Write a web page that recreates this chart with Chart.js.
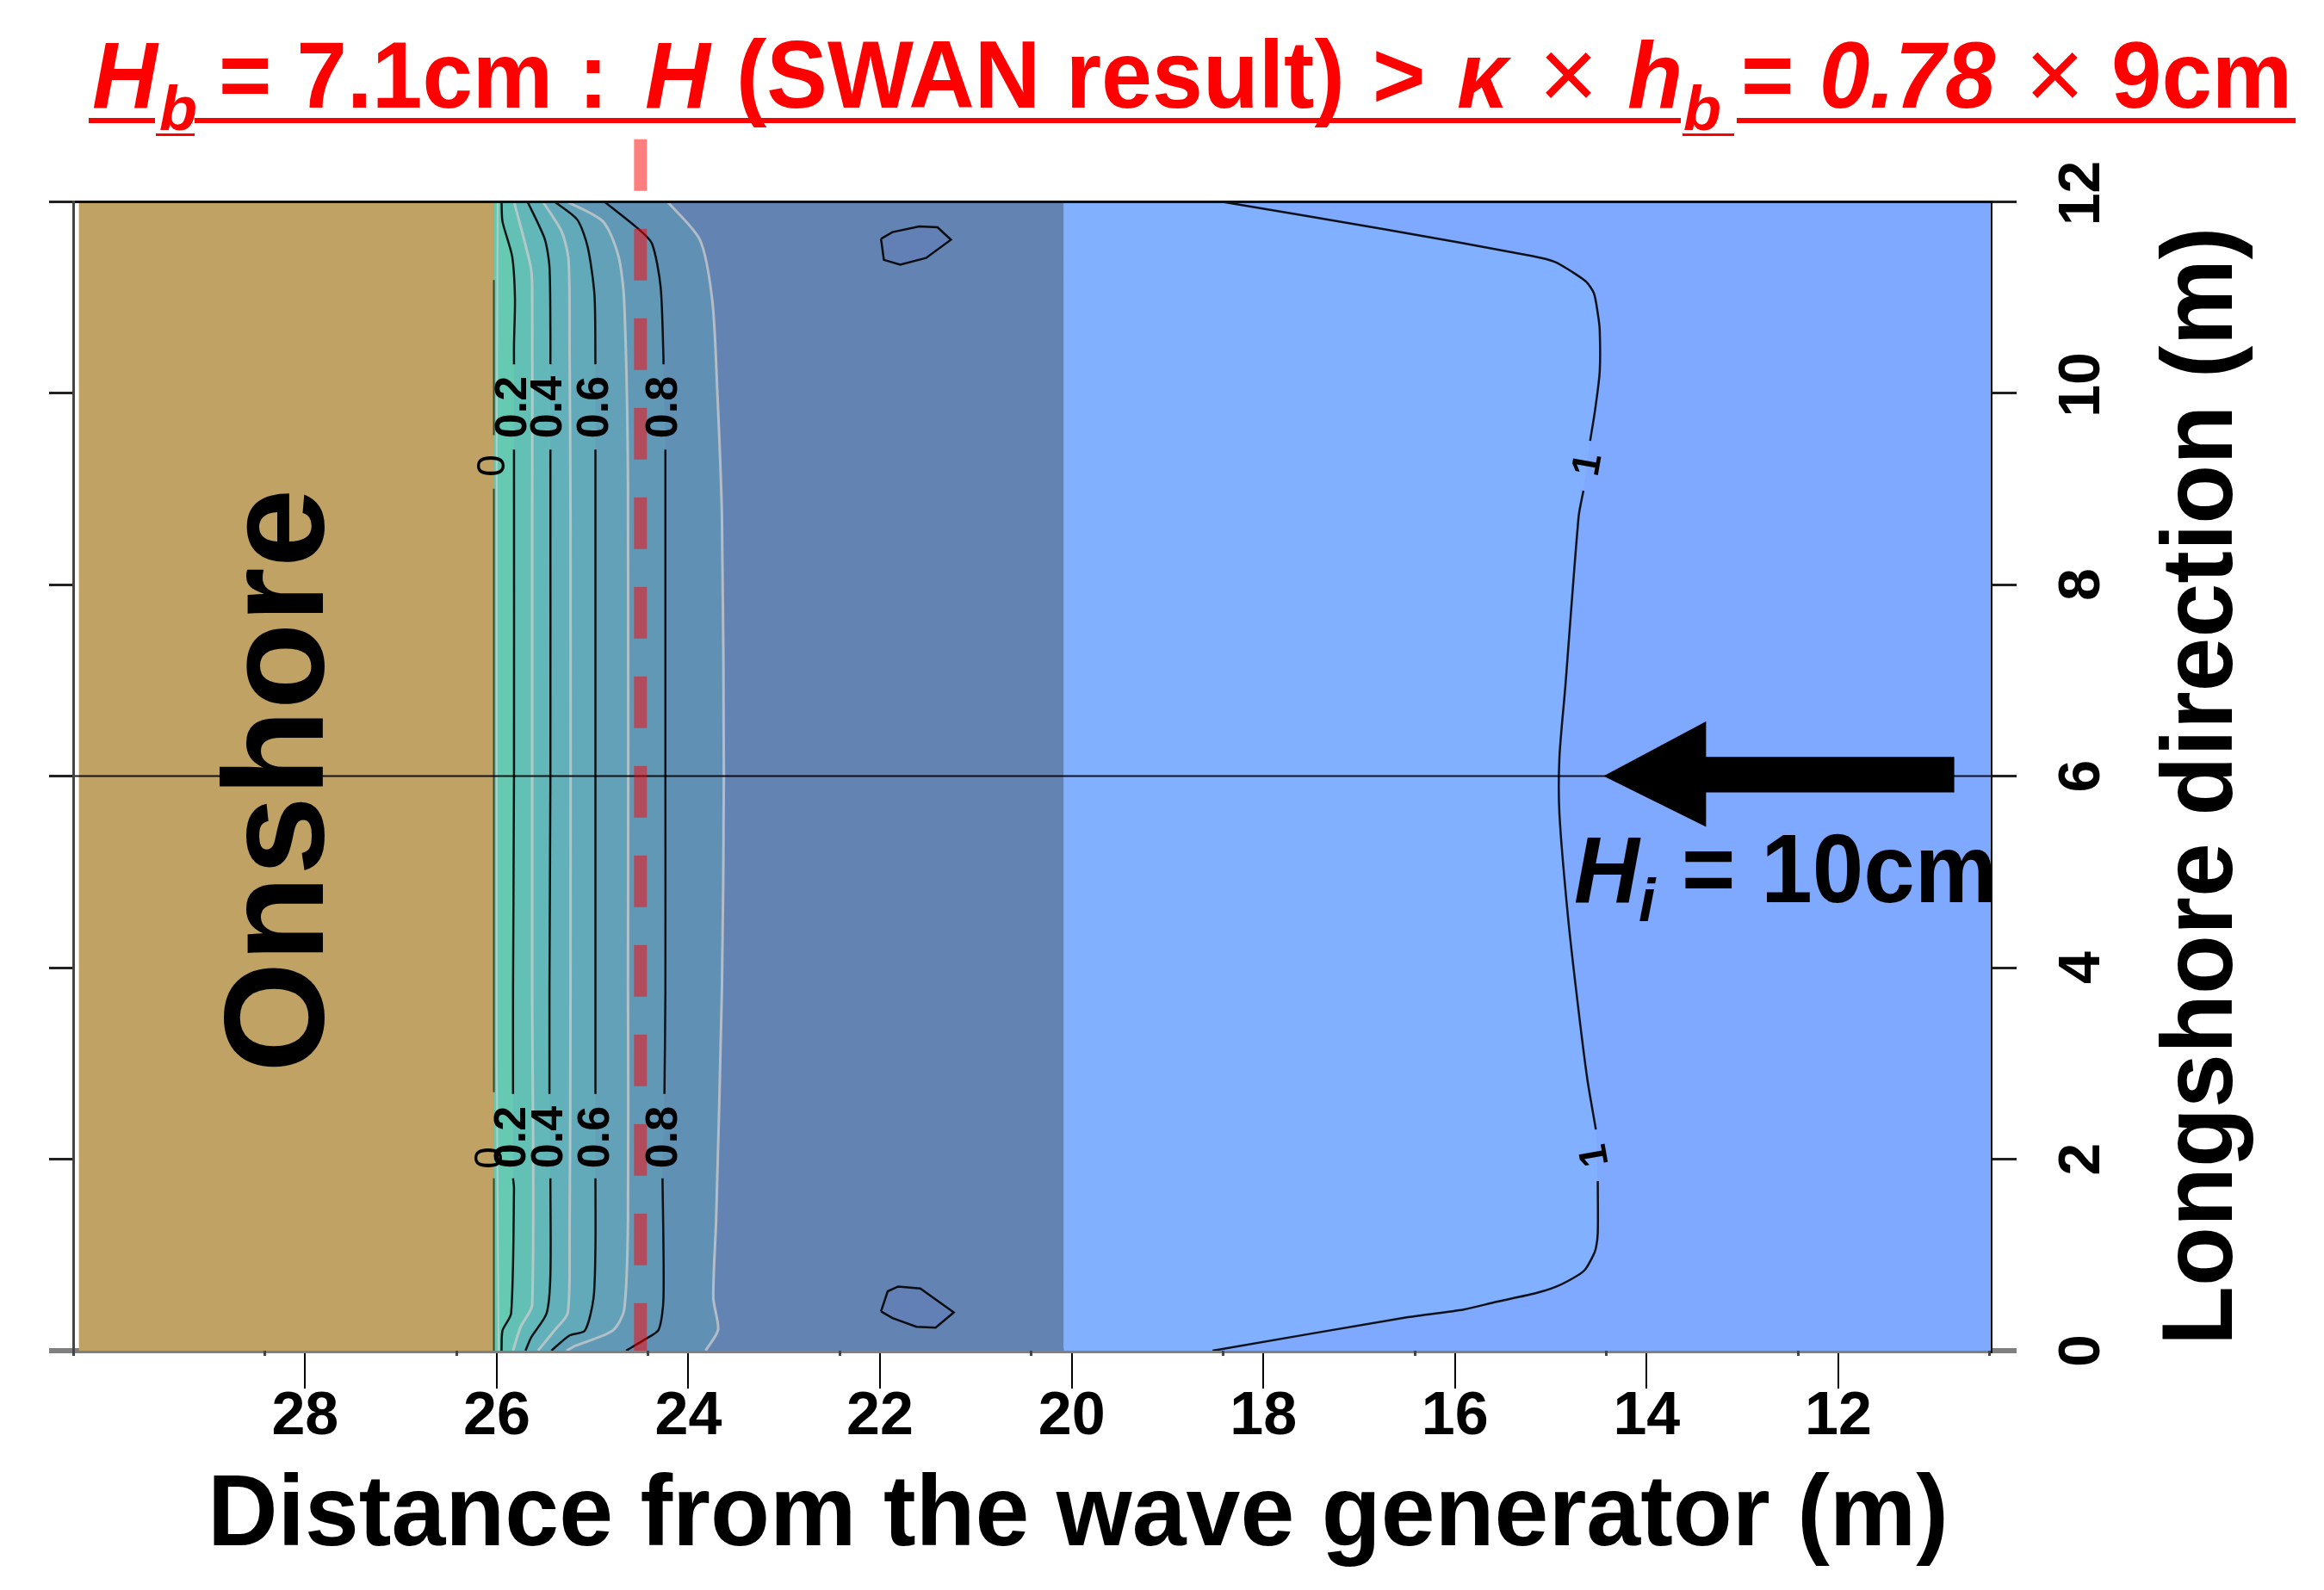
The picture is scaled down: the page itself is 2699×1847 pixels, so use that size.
<!DOCTYPE html>
<html>
<head>
<meta charset="utf-8">
<title>Wave height contours</title>
<script src="https://cdn.jsdelivr.net/npm/chart.js@4"></script>
<style>
  html, body { margin: 0; padding: 0; background: #fff; }
  canvas { display: block; }
</style>
</head>
<body>
<canvas id="contour-chart" width="2699" height="1847"></canvas>
<script>
// axes
const xMin = 10.4;
const xMax = 30.42;
const xTickValues = [28, 26, 24, 22, 20, 18, 16, 14, 12];
const xMinorTicks = [30.42, 28.42, 26.42, 24.42, 22.42, 20.42, 18.42, 16.42, 14.42, 12.42, 10.42];
const yTickValues = [0, 2, 4, 6, 8, 10, 12];

// regions
const onshoreRegion = [[30.36, 12], [26.03, 12], [26.03, 0], [30.36, 0]];
const deepRegion = [[26.03, 12], [20.08, 12], [20.08, 0], [26.03, 0]];
const offshoreRegion = [[20.08, 12], [10.4, 12], [10.4, 0], [20.08, 0]];

// contour lines, null = gap where the label sits
const contour0 = [[26.03, 11.18], [26.03, 9.56], null, [26.03, 9.0], [26.03, 2.7], null, [26.03, 1.8], [26.03, 0]];
const contour01 = [[25.99, 12], [26.0, 9.5], [26.0, 3], [25.98, 0]];
const contour02 = [[25.95, 12], [25.94, 11.79], [25.84, 11.43], [25.81, 10.99], [25.82, 10.51], [25.82, 10.3], null, [25.82, 9.41], [25.82, 6], [25.83, 3.78], [25.83, 2.68], null, [25.83, 1.8], [25.82, 1.69], [25.85, 0.39], [25.94, 0.21], [25.95, 0]];
const contour03 = [[25.82, 12], [25.65, 11.34], [25.63, 11.11], [25.63, 8.71], [25.63, 3.78], [25.63, 0.48], [25.75, 0.25], [25.83, 0]];
const contour04 = [[25.68, 12], [25.5, 11.61], [25.45, 11.32], [25.44, 10.63], [25.44, 10.3], null, [25.44, 9.41], [25.44, 6], [25.45, 3.78], [25.45, 2.68], null, [25.44, 1.8], [25.44, 0.79], [25.48, 0.39], [25.64, 0.14], [25.7, 0]];
const contour05 = [[25.52, 12], [25.32, 11.68], [25.25, 11.38], [25.24, 10.51], [25.23, 8.71], [25.23, 3.78], [25.24, 1.09], [25.26, 0.39], [25.39, 0.22], [25.57, 0]];
const contour06 = [[25.4, 12], [25.16, 11.81], [25.05, 11.52], [24.98, 11.02], [24.97, 10.3], null, [24.97, 9.41], [24.97, 6], [24.97, 2.68], null, [24.97, 1.8], [24.97, 1.09], [24.99, 0.55], [25.08, 0.21], [25.24, 0.16], [25.43, 0]];
const contour07 = [[25.27, 12], [24.89, 11.79], [24.73, 11.43], [24.67, 10.96], [24.63, 9.01], [24.63, 3.78], [24.63, 1.38], [24.67, 0.43], [24.79, 0.21], [25.18, 0.05], [25.27, 0]];
const contour08 = [[24.88, 12], [24.53, 11.72], [24.38, 11.56], [24.29, 11.11], [24.26, 10.36], [24.26, 10.3], null, [24.24, 9.41], [24.24, 6], [24.24, 3.78], [24.25, 2.68], null, [24.27, 1.8], [24.26, 0.55], [24.31, 0.22], [24.45, 0.12], [24.65, 0]];
const contour09 = [[24.22, 12], [23.88, 11.6], [23.75, 10.96], [23.7, 10.06], [23.65, 8.71], [23.63, 6], [23.65, 3.78], [23.71, 1.38], [23.74, 0.55], [23.69, 0.22], [23.82, 0]];
const contour10 = [[18.45, 12], [16.74, 11.71], [15.19, 11.43], [14.96, 11.37], [14.77, 11.26], [14.63, 11.16], [14.55, 11.04], [14.51, 10.83], [14.49, 10.66], [14.49, 10.22], [14.54, 9.81], [14.59, 9.5], null, [14.66, 8.98], [14.71, 8.71], [14.85, 6.92], [14.91, 6.2], [14.91, 5.6], [14.82, 4.52], [14.72, 3.63], [14.62, 2.84], [14.53, 2.31], null, [14.51, 1.77], [14.51, 1.23], [14.53, 1.07], [14.56, 0.99], [14.64, 0.85], [14.73, 0.78], [14.94, 0.67], [15.16, 0.6], [15.57, 0.51], [15.91, 0.43], [16.49, 0.35], [18.53, 0]];
const blobTop = [[21.99, 11.61], [21.87, 11.68], [21.59, 11.74], [21.4, 11.73], [21.26, 11.6], [21.52, 11.41], [21.79, 11.34], [21.96, 11.39], [21.99, 11.61]];
const blobBottom = [[21.99, 0.41], [21.92, 0.62], [21.81, 0.67], [21.58, 0.65], [21.23, 0.4], [21.42, 0.24], [21.62, 0.25], [21.87, 0.34], [21.99, 0.41]];

// annotations
const breakingLine = [[24.5, 12.65], [24.5, 0]];
const transectLine = [[30.42, 6], [10.4, 6]];
const waveArrow = [[14.45, 6], [13.38, 6.57], [13.38, 6.2], [10.79, 6.2], [10.79, 5.83], [13.38, 5.83], [13.38, 5.47]];

const toPoints = list => list.map(p => p ? { x: p[0], y: p[1] } : { x: null, y: null });
const solid = list => list.filter(p => p);

function region(list, color) {
  return { data: toPoints(list), showLine: true, fill: 'shape', backgroundColor: color, borderColor: 'transparent', borderWidth: 0, pointRadius: 0 };
}
function band(list, color) {
  return region(solid(list).concat([[26.03, 0], [26.03, 12]]), color);
}
function line(list, color, width, tension) {
  return { data: toPoints(list), showLine: true, fill: false, borderColor: color, borderWidth: width, pointRadius: 0, tension: tension || 0 };
}

const BLACK_LINE = 'rgba(0,0,0,0.9)';
const GREY_LINE = 'rgba(205,205,205,0.75)';

var datasets = [
  region(onshoreRegion, '#BFA264'),
  region(deepRegion, '#6384B2'),
  region(offshoreRegion, '#7FA9FF'),
  region(solid(contour10).concat([[20.08, 0], [20.08, 12]]), '#80B0FF'),
  band(contour09, '#6090B4'),
  band(contour08, '#6098B6'),
  band(contour07, '#62A1B7'),
  band(contour06, '#62A9B9'),
  band(contour05, '#62B0B9'),
  band(contour04, '#62B8B8'),
  band(contour03, '#63C0B5'),
  band(contour02, '#66CAB2'),
  region(blobTop, '#6280B6'),
  region(blobBottom, '#6280B6'),
  line(contour01, GREY_LINE, 2),
  line(contour03, GREY_LINE, 3, 0.25),
  line(contour05, GREY_LINE, 3, 0.25),
  line(contour07, GREY_LINE, 3, 0.25),
  line(contour09, GREY_LINE, 3, 0.25),
  line(contour0, 'rgba(0,0,0,0.6)', 2),
  line(contour02, BLACK_LINE, 2.5, 0.25),
  line(contour04, BLACK_LINE, 2.5, 0.25),
  line(contour06, BLACK_LINE, 2.5, 0.25),
  line(contour08, BLACK_LINE, 2.5, 0.25),
  line(contour10, BLACK_LINE, 2.5, 0.25),
  line(blobTop, BLACK_LINE, 2.5),
  line(blobBottom, BLACK_LINE, 2.5),
  line(transectLine, 'rgba(0,0,0,0.9)', 2),
  Object.assign(line(breakingLine, 'rgba(255,0,0,0.5)', 15), { borderDash: [60, 44], clip: false }),
  region(waveArrow, '#000')
];
// first dataset is painted last by the library
datasets.reverse();

const SANS = '"Liberation Sans", Arial, sans-serif';

function put(ctx, text, x, y, font, color, angle, stretch) {
  ctx.save();
  ctx.translate(x, y);
  if (angle) ctx.rotate(angle * Math.PI / 180);
  if (stretch) ctx.scale(1, stretch);
  ctx.font = font;
  ctx.fillStyle = color;
  ctx.fillText(text, 0, 0);
  ctx.restore();
}

const textPlugin = {
  id: 'texts',
  afterDraw(chart) {
    const ctx = chart.ctx;
    const RED = '#FF0000';
    const B = 'bold 105px ' + SANS;
    const BI = 'italic bold 105px ' + SANS;
    const SUB = 'italic bold 72px ' + SANS;
    const R = '118px ' + SANS;
    const TALL = 1.05;
    ctx.save();
    ctx.textAlign = 'left';
    ctx.textBaseline = 'alphabetic';

    // title, run by run
    put(ctx, 'H', 107, 125, BI, RED, 0, TALL);
    put(ctx, 'b', 185, 151, SUB, RED);
    put(ctx, '= 7.1cm :', 254, 125, B, RED, 0, TALL);
    put(ctx, 'H', 749, 125, BI, RED, 0, TALL);
    put(ctx, '(SWAN result)', 855, 125, 'bold 106px ' + SANS, RED, 0, TALL);
    put(ctx, '>', 1594, 125, B, RED, 0, TALL);
    put(ctx, '\u03BA', 1692, 125, BI, RED, 0, TALL);
    put(ctx, '\u00D7', 1787, 127, R, RED);
    put(ctx, 'h', 1890, 125, BI, RED, 0, TALL);
    put(ctx, 'b', 1955, 151, SUB, RED);
    put(ctx, '=', 2022, 125, B, RED, 0, TALL);
    put(ctx, '0.78', 2113, 125, BI, RED, 0, TALL);
    put(ctx, '\u00D7', 2352, 127, R, RED);
    put(ctx, '9cm', 2452, 125, B, RED, 0, TALL);
    ctx.fillStyle = RED;
    ctx.fillRect(103, 137, 77, 6);
    ctx.fillRect(226, 137, 1726, 6);
    ctx.fillRect(2017, 137, 649, 6);
    ctx.fillRect(181, 155, 45, 3);
    ctx.fillRect(1954, 155, 60, 3);

    // axis titles
    put(ctx, 'Distance from the wave generator (m)', 241, 1795, 'bold 113px ' + SANS, '#000', 0, 1.04);
    put(ctx, 'Longshore direction (m)', 2592, 1563, 'bold 113px ' + SANS, '#000', -90, 1.04);

    // labels on the plot
    put(ctx, 'Onshore', 375, 1246, 'bold 165px ' + SANS, '#000', -90);
    put(ctx, 'H', 1828, 1048, BI, '#000', 0, TALL);
    put(ctx, 'i', 1903, 1070, 'italic bold 70px ' + SANS, '#000');
    put(ctx, '= 10cm', 1953, 1048, 'bold 107px ' + SANS, '#000', 0, TALL);

    const CL = 'bold 52px ' + SANS;
    ctx.textAlign = 'center';
    ctx.textBaseline = 'middle';
    put(ctx, '0.2', 597, 473, CL, '#000', -90);
    put(ctx, '0.4', 638, 473, CL, '#000', -90);
    put(ctx, '0.6', 692, 473, CL, '#000', -90);
    put(ctx, '0.8', 772, 473, CL, '#000', -90);
    put(ctx, '0.2', 596, 1321, CL, '#000', -90);
    put(ctx, '0.4', 639, 1321, CL, '#000', -90);
    put(ctx, '0.6', 693, 1321, CL, '#000', -90);
    put(ctx, '0.8', 772, 1321, CL, '#000', -90);
    put(ctx, '0', 573, 541, '46px ' + SANS, '#000', -90);
    put(ctx, '0', 570, 1345, '46px ' + SANS, '#000', -90);
    put(ctx, '1', 1845, 540, 'bold 46px ' + SANS, '#000', -80);
    put(ctx, '1', 1853, 1342, 'bold 46px ' + SANS, '#000', -100);
    ctx.restore();
  }
};

function yGrid(len) {
  return {
    drawOnChartArea: false,
    tickLength: len,
    color: ctx => (ctx.tick && ctx.tick.value === 0) ? '#808080' : '#222',
    lineWidth: ctx => (ctx.tick && ctx.tick.value === 0) ? 6 : 3
  };
}

new Chart(document.getElementById('contour-chart'), {
  type: 'scatter',
  data: { datasets: datasets },
  plugins: [textPlugin],
  options: {
    responsive: false,
    devicePixelRatio: 1,
    animation: false,
    events: [],
    layout: { padding: { top: 234, left: 0, right: 0, bottom: 0 } },
    plugins: { legend: { display: false }, tooltip: { enabled: false } },
    scales: {
      x: {
        type: 'linear', position: 'bottom', reverse: true, min: xMin, max: xMax,
        afterBuildTicks: s => { s.ticks = xTickValues.map(v => ({ value: v })); },
        afterFit: s => { s.height = 1847 - 1569; },
        border: { color: '#808080', width: 6 },
        grid: { drawOnChartArea: false, tickLength: 44, color: '#000', lineWidth: 2 },
        ticks: {
          autoSkip: false, maxRotation: 0, padding: -1, color: '#000',
          font: { family: SANS, weight: 'bold', size: 70, lineHeight: 1 }
        }
      },
      xMinor: {
        axis: 'x', type: 'linear', position: 'bottom', weight: -1, reverse: true, min: xMin, max: xMax,
        afterBuildTicks: s => { s.ticks = xMinorTicks.map(v => ({ value: v })); },
        afterFit: s => { s.height = 0; },
        border: { display: false },
        grid: { drawOnChartArea: false, tickLength: 6, color: '#444', lineWidth: 3, z: 1 },
        ticks: { display: false }
      },
      xTop: {
        axis: 'x', type: 'linear', position: 'top', reverse: true, min: xMin, max: xMax,
        afterFit: s => { s.height = 0; },
        border: { color: '#111', width: 3, z: 1 },
        grid: { display: false },
        ticks: { display: false }
      },
      y: {
        type: 'linear', position: 'right', min: 0, max: 12,
        afterBuildTicks: s => { s.ticks = yTickValues.map(v => ({ value: v })); },
        afterFit: s => { s.width = 2699 - 2313; },
        border: { color: '#111', width: 2, z: 1 },
        grid: yGrid(29),
        ticks: {
          autoSkip: false, minRotation: 90, maxRotation: 90, crossAlign: 'center', padding: 30, color: '#000',
          font: { family: SANS, weight: 'bold', size: 68 },
          // leading space lifts the two digit labels off their ticks, as in the original
          callback: v => (v >= 10 ? ' ' : '') + v
        }
      },
      yLeft: {
        axis: 'y', type: 'linear', position: 'left', min: 0, max: 12,
        afterBuildTicks: s => { s.ticks = yTickValues.map(v => ({ value: v })); },
        afterFit: s => { s.width = 85; },
        border: { color: '#444', width: 3, z: 1 },
        grid: yGrid(28),
        ticks: { display: false }
      }
    }
  }
});
</script>
</body>
</html>
